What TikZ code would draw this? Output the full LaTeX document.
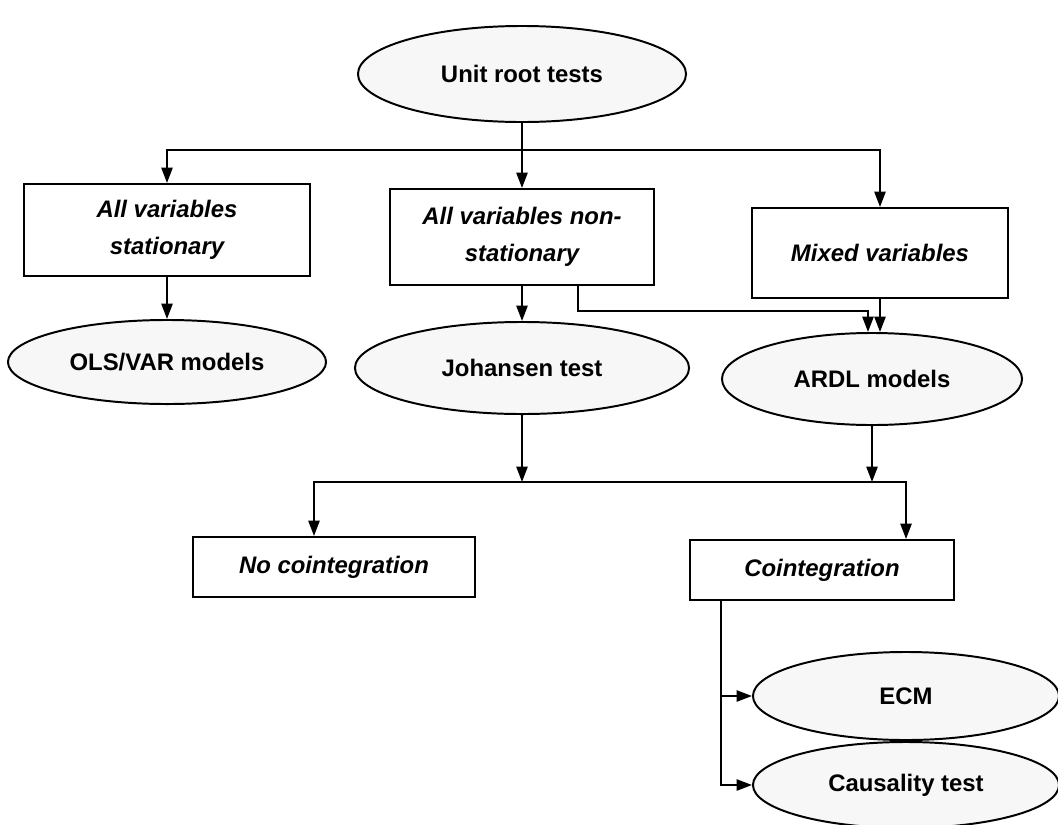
\documentclass[tikz,border=0pt]{standalone}
\usepackage{fontspec}
\setmainfont{Liberation Sans}
\usepackage{tikz}
\usetikzlibrary{positioning,shapes.geometric,arrows.meta}

\begin{document}
\begin{tikzpicture}[
    x=0.025cm, y=-0.025cm, line width=1.4pt,
    >={Triangle[length=11pt,width=8pt]},
    testnode/.style={ellipse, draw, fill=gray!6, inner sep=0pt, font=\fontsize{17}{20}\selectfont\bfseries},
    casenode/.style={rectangle, draw, fill=white, align=center, inner sep=0pt, font=\fontsize{17}{26}\selectfont\bfseries\itshape}
]
\useasboundingbox (0,0) rectangle (1058,824);
\node[testnode, minimum width=8.2cm, minimum height=2.4cm](unit) at (522,74){Unit root tests};
\node[casenode, minimum width=7.15cm, minimum height=2.3cm](stat) at (167,230){All variables\\stationary};
\node[casenode, minimum width=6.6cm, minimum height=2.4cm](nonstat) at (522,237){All variables non-\\stationary};
\node[casenode, minimum width=6.4cm, minimum height=2.25cm](mixed) at (880,253){Mixed variables};
\node[testnode, minimum width=7.95cm, minimum height=2.1cm](ols) at (167,362){OLS/VAR models};
\node[testnode, minimum width=8.35cm, minimum height=2.3cm](johansen) at (522,368){Johansen test};
\node[testnode, minimum width=7.5cm, minimum height=2.3cm](ardl) at (872,379){ARDL models};
\node[casenode, minimum width=7.05cm, minimum height=1.5cm](nocoint) at (334,567){No cointegration};
\node[casenode, minimum width=6.6cm, minimum height=1.5cm](coint) at (822,570){Cointegration};
\node[testnode, minimum width=7.65cm, minimum height=2.2cm](ecm) at (906,696){ECM};
\node[testnode, minimum width=7.65cm, minimum height=2.15cm](causal) at (906,785){Causality test};
\coordinate (fork) at (522,150);
\coordinate (merge) at (522,482);
% unit root tests split three ways
\draw[->] (unit.south) -- (nonstat.north);
\draw[->] (fork) -| (stat.north);
\draw[->] (fork) -| (mixed.north);
\draw[->] (stat.south) -- (ols.north);
\draw[->] (nonstat.south) -- (johansen.north);
\draw[->] ([xshift=1.4cm]nonstat.south) -- ++(0,25) -| ([xshift=-0.1cm]ardl.north);
\draw[->] (mixed.south) -- (mixed.south |- ardl.north);
% both tests lead to the cointegration outcome
\draw[->] (johansen.south) -- (merge);
\draw[->] (ardl.south) -- (ardl.south |- merge);
\draw[<->] ([xshift=-0.5cm]nocoint.north) |- (merge) -| ([xshift=2.1cm]coint.north);
\draw[->] ([xshift=0.8cm]coint.south west) |- (ecm.west);
\draw[->] ([xshift=0.8cm]coint.south west) |- (causal.west);
\end{tikzpicture}
\end{document}
